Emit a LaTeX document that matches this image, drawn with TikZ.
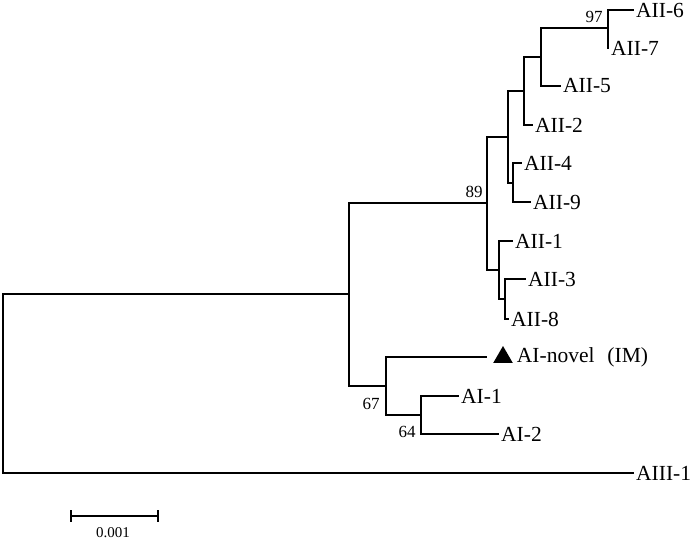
\documentclass[tikz,border=0pt]{standalone}
\usepackage{fontspec}
\setmainfont{Liberation Serif}
\usetikzlibrary{positioning,shapes.geometric}
\tikzset{
    %Define style for tree branches
    branch/.style={
           line width=1.2pt,
           line cap=rect,
           every edge/.append style={to path={|- (\tikztotarget)}}},
    %Define style for taxon labels
    taxon/.style={
           anchor=west,
           inner sep=1pt,
           xshift=2pt,
           font=\fontsize{21.5}{25}\selectfont},
    %Define style for bootstrap values
    boot/.style={
           inner sep=0pt,
           font=\fontsize{17}{20}\selectfont},
    marker/.style={
           regular polygon,
           regular polygon sides=3,
           fill=black,
           inner sep=0pt,
           minimum size=22.6pt},
    scalebar/.style={
           line width=2.4pt},
    scaletext/.style={
           inner sep=0pt,
           font=\fontsize{15}{18}\selectfont}
}
\begin{document}
\begin{tikzpicture}[x=1pt,y=-1pt]
\useasboundingbox (0,0) rectangle (692,541);

 %internal nodes
\coordinate (root) at (3,383);
\coordinate (nII) at (349,294);
\coordinate (n89) at (487,203);
\coordinate (n3) at (508,137);
\coordinate (n2) at (524,91);
\coordinate (nA) at (541,57);
\coordinate (n97) at (608,28);
\coordinate (n4) at (513,183);
\coordinate (n5) at (499,270);
\coordinate (n6) at (505,299);
\coordinate (nAI) at (386,386);
\coordinate (n64) at (421,415);

 %tips
\coordinate (t6) at (633,10);
\coordinate (t7) at (608,48);
\coordinate (t5) at (560,86);
\coordinate (t2) at (532,125);
\coordinate (t4) at (521,163);
\coordinate (t9) at (530,202);
\coordinate (t1) at (512,241);
\coordinate (t3) at (525,279);
\coordinate (t8) at (508,319);
\coordinate (tnov) at (486,357);
\coordinate (tI1) at (458,396);
\coordinate (tI2) at (498,434);
\coordinate (tIII1) at (633,473);

 %branches
\path[branch]
    (root) edge (nII) edge (tIII1)
    (nII) edge (n89) edge (nAI)
    (n89) edge (n3) edge (n5)
    (n3) edge (n2) edge (n4)
    (n2) edge (nA) edge (t2)
    (nA) edge (n97) edge (t5)
    (n97) edge (t6) edge (t7)
    (n4) edge (t4) edge (t9)
    (n5) edge (t1) edge (n6)
    (n6) edge (t3) edge (t8)
    (nAI) edge (tnov) edge (n64)
    (n64) edge (tI1) edge (tI2);

 %labels
\node[taxon] (AII6) at (t6) {AII-6};
\node[taxon] (AII7) at (t7) {AII-7};
\node[taxon] (AII5) at (t5) {AII-5};
\node[taxon] (AII2) at (t2) {AII-2};
\node[taxon] (AII4) at (t4) {AII-4};
\node[taxon] (AII9) at (t9) {AII-9};
\node[taxon] (AII1) at (t1) {AII-1};
\node[taxon] (AII3) at (t3) {AII-3};
\node[taxon] (AII8) at (t8) {AII-8};
\node[marker] (tri) at (503,357.3) {};
\node[taxon, xshift=0pt, right=4pt of tri] (AInov) {AI-novel\hspace{0.6em}(IM)};
\node[taxon] (AI1) at (tI1) {AI-1};
\node[taxon] (AI2) at (tI2) {AI-2};
\node[taxon] (AIII1) at (tIII1) {AIII-1};

 %bootstrap values
\node[boot] (b97) at (594,17) {97};
\node[boot] (b89) at (474,192) {89};
\node[boot] (b67) at (371,404) {67};
\node[boot] (b64) at (407,432) {64};

 %scale bar
\coordinate (sbL) at (71,516);
\coordinate (sbR) at (158,516);
\draw[scalebar] (sbL) -- (sbR);
\draw[scalebar] ([yshift=6pt]sbL) -- ([yshift=-6pt]sbL);
\draw[scalebar] ([yshift=6pt]sbR) -- ([yshift=-6pt]sbR);
\node[scaletext] (sbtext) at (113,533) {0.001};
\end{tikzpicture}
\end{document}
